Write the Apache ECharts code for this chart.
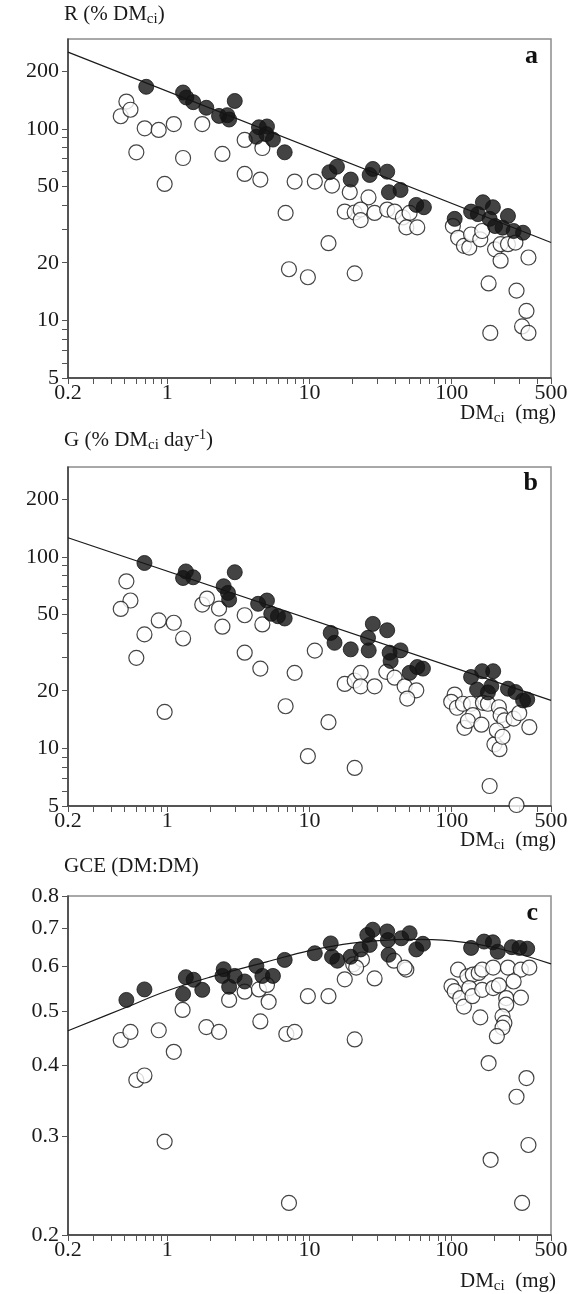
<!DOCTYPE html>
<html><head><meta charset="utf-8">
<script src="https://cdn.jsdelivr.net/npm/echarts@6/dist/echarts.min.js"></script>
<style>html,body{margin:0;padding:0;background:#fff}#c{width:580px;height:1294px}</style>
</head><body><div id="c"></div>
<script>
// ---------- data ----------
const xLabelValues = [0.2, 1, 10, 100, 500];
const xTickValues = [0.2,0.3,0.4,0.5,0.6,0.7,0.8,0.9,1,2,3,4,5,6,7,8,9,10,20,30,40,50,60,70,80,90,100,200,300,400,500];
const rgLabelValues = [5, 10, 20, 50, 100, 200];
const rgTickValues = [5,6,7,8,9,10,20,30,40,50,60,70,80,90,100,200];
const gceLabelValues = [0.2,0.3,0.4,0.5,0.6,0.7,0.8];

const rFilled = [[0.71,166],[1.29,155],[1.36,146],[1.52,138],[1.88,129],[2.98,140],[2.31,117],[2.64,118],[2.72,112],[4.41,102],[5.02,103],[4.23,91],[4.97,94],[5.53,88],[6.69,75.5],[13.8,59.4],[15.6,63.5],[19.5,54.4],[26.5,57.5],[27.9,61.8],[35.2,59.8],[36.2,46.7],[43.7,48],[56.4,40.1],[63.8,39],[105,33.9],[137,37],[166,41.4],[195,39],[185,33.9],[153,35.9],[249,35.1],[228,30.5],[273,29.3],[318,28.7],[202,31.1]];
const rOpen = [[0.515,139],[0.47,116.5],[0.55,126],[0.693,100.8],[0.869,98.8],[0.605,75.5],[1.11,106],[0.957,51.6],[1.29,70.5],[1.76,106],[2.44,74],[3.5,87.6],[4.66,79.5],[3.5,58.2],[4.51,54.4],[6.79,36.4],[7.17,18.5],[7.86,53.1],[10.9,53.1],[14.4,50.6],[19.2,46.7],[26,43.9],[17.7,37],[20.8,36.6],[22.9,37.9],[22.9,33.4],[28.7,36.4],[35.2,37.9],[39.7,37],[45.4,34.5],[50.6,36.4],[48,30.6],[57.3,30.6],[13.6,25.3],[9.74,16.8],[20.8,17.6],[102,31.1],[111,27],[122,24.5],[133,24],[137,28.1],[159,26.5],[164,29.3],[202,23.5],[221,25],[221,20.5],[249,25],[281,25.5],[347,21.3],[182,15.6],[286,14.3],[336,11.2],[313,9.3],[347,8.6],[187,8.6]];
const rLine = [[0.2,252],[500,25.5]];

const gFilled = [[0.69,93],[1.35,84],[1.29,77.6],[1.52,78.3],[2.98,83.2],[2.49,70.3],[2.67,64.9],[2.72,59.8],[4.35,56.9],[5.02,59.2],[5.38,50.5],[6.0,49],[6.69,47.7],[14.1,40.1],[15,35.6],[19.5,32.9],[25.8,37.8],[27.9,44.7],[26.1,32.5],[35.2,41.4],[36.6,31.6],[37.2,28.6],[43.7,32.5],[50.6,24.8],[57.3,26.6],[62.8,26.1],[137,23.6],[164,25.3],[196,25.3],[151,20.3],[190,21.1],[180,19.6],[249,20.5],[281,19.7],[318,17.8],[340,18]];
const gOpen = [[0.515,74.6],[0.55,59.2],[0.47,53.5],[0.69,39.4],[0.605,29.7],[0.87,46.6],[1.11,45.3],[1.29,37.5],[0.957,15.5],[1.76,56.4],[1.9,60.6],[2.31,53.7],[2.44,43.2],[3.5,49.6],[4.66,44.4],[3.5,31.6],[4.51,26.1],[7.86,24.8],[6.79,16.6],[10.9,32.4],[13.6,13.7],[9.74,9.1],[20.8,7.9],[17.7,21.7],[20.8,22.6],[22.9,24.8],[22.9,21.1],[28.7,21.1],[34.7,25.1],[39.7,23.4],[46.7,21.1],[56.4,20.1],[48.7,18.2],[105,19.1],[99.3,17.5],[109,16.3],[120,17.1],[137,17.1],[141,14.9],[123,12.8],[130,13.9],[162,13.3],[166,17.3],[185,6.36],[200,10.5],[217,9.9],[180,17.1],[215,16.4],[221,14.9],[235,14],[273,14.3],[299,15.3],[352,12.9],[208,12.4],[228,11.5],[286,5.06]];
const gLine = [[0.2,126],[500,17.8]];

const gceFilled = [[0.515,0.523],[0.69,0.546],[1.29,0.536],[1.35,0.574],[1.53,0.568],[1.76,0.545],[2.49,0.593],[2.44,0.577],[2.72,0.552],[2.98,0.577],[3.5,0.564],[4.23,0.601],[4.66,0.577],[5.53,0.577],[6.69,0.616],[10.9,0.633],[14.1,0.659],[14.4,0.624],[15.7,0.614],[19.5,0.624],[22.9,0.643],[25.5,0.682],[27.9,0.697],[26.5,0.655],[35.2,0.692],[35.6,0.668],[36,0.629],[44.2,0.673],[50.6,0.687],[56.4,0.643],[62.8,0.658],[137,0.647],[169,0.664],[195,0.662],[211,0.637],[265,0.649],[300,0.647],[340,0.645]];
const gceOpen = [[0.47,0.444],[0.55,0.459],[0.87,0.462],[1.11,0.423],[1.28,0.502],[0.605,0.377],[0.69,0.384],[0.957,0.293],[1.88,0.468],[2.31,0.459],[2.72,0.523],[3.5,0.541],[4.41,0.546],[5.02,0.556],[5.16,0.519],[4.51,0.479],[6.87,0.455],[7.17,0.228],[9.74,0.531],[13.6,0.531],[7.86,0.459],[20.8,0.445],[17.7,0.569],[20.3,0.605],[23.4,0.617],[21.3,0.597],[28.7,0.571],[39.3,0.614],[48,0.592],[46.7,0.597],[111,0.592],[99.8,0.553],[105,0.542],[115,0.527],[122,0.509],[129,0.576],[141,0.58],[155,0.584],[164,0.592],[196,0.597],[249,0.597],[307,0.592],[352,0.597],[133,0.549],[140,0.531],[159,0.487],[164,0.545],[196,0.549],[215,0.555],[242,0.527],[273,0.564],[242,0.513],[228,0.489],[235,0.476],[228,0.467],[208,0.451],[307,0.528],[182,0.404],[188,0.272],[286,0.352],[336,0.38],[347,0.289],[313,0.228]];
const gceCurve = [[0.2,0.461],[0.5,0.506],[1,0.543],[2,0.574],[5,0.611],[10,0.640],[20,0.660],[50,0.670],[100,0.666],[200,0.648],[500,0.606]];

// ---------- chart ----------
const lg = Math.log10;
const FONT = '"Liberation Serif","DejaVu Serif",serif';
const TXT = '#1a1a1a';
const tr = arr => arr.map(p => [lg(p[0]), lg(p[1])]);
function fmt(list){
  return function(v){
    let best = list[0], bd = 1e9;
    list.forEach(l => { const d = Math.abs(lg(l) - v); if (d < bd) { bd = d; best = l; } });
    return String(best);
  };
}
const tops = [39, 467, 896];
const grids = tops.map(t => ({left:68, top:t, width:483, height:339, show:true, borderColor:'#8c8c8c', borderWidth:1.5, outerBoundsMode:'none'}));

const yCfg = [
  {min:lg(5), max:lg(295), labels:rgLabelValues, ticks:rgTickValues},
  {min:lg(5), max:lg(295), labels:rgLabelValues, ticks:rgTickValues},
  {min:lg(0.2), max:lg(0.8), labels:gceLabelValues, ticks:gceLabelValues}
];
const xAxes = tops.map((t,i) => ({
  type:'value', gridIndex:i, min:lg(0.2), max:lg(500),
  axisLine:{show:true, onZero:false, lineStyle:{color:'#3a3a3a', width:1.5}},
  axisTick:{show:true, inside:false, length:6, customValues:xTickValues.map(lg), lineStyle:{color:'#555', width:1}},
  axisLabel:{show:true, customValues:xLabelValues.map(lg), formatter:fmt(xLabelValues), showMinLabel:true, showMaxLabel:true,
    fontFamily:FONT, fontSize:22, color:TXT, margin:4},
  splitLine:{show:false}
}));
const yAxes = yCfg.map((c,i) => ({
  type:'value', gridIndex:i, min:c.min, max:c.max,
  axisLine:{show:true, onZero:false, lineStyle:{color:'#3a3a3a', width:1.5}},
  axisTick:{show:true, inside:false, length:6, customValues:c.ticks.map(lg), lineStyle:{color:'#555', width:1}},
  axisLabel:{show:true, customValues:c.labels.map(lg), formatter:fmt(c.labels), showMinLabel:true, showMaxLabel:true,
    fontFamily:FONT, fontSize:22, color:TXT, margin:9},
  splitLine:{show:false}
}));

const openStyle = {color:'#ffffff', borderColor:'#151515', borderWidth:1.2};
const fillStyle = {color:'#141414', borderColor:'#141414', borderWidth:1};
const series = [];
const sets = [[rOpen, rFilled, rLine, false],[gOpen, gFilled, gLine, false],[gceOpen, gceFilled, gceCurve, true]];
sets.forEach((s,i) => {
  series.push({type:'line', xAxisIndex:i, yAxisIndex:i, data:tr(s[2]), symbol:'none', smooth:s[3] ? 0.4 : false,
    lineStyle:{color:'#1a1a1a', width:1.2}, z:1, silent:true});
  series.push({type:'scatter', xAxisIndex:i, yAxisIndex:i, data:tr(s[0]), symbol:'circle', symbolSize:15, itemStyle:openStyle, z:2});
  series.push({type:'scatter', xAxisIndex:i, yAxisIndex:i, data:tr(s[1]), symbol:'circle', symbolSize:15, itemStyle:fillStyle, z:3});
});

const rich = {
  n:{fontFamily:FONT, fontSize:21, fontWeight:'normal', color:TXT},
  s:{fontFamily:FONT, fontSize:15, fontWeight:'normal', color:TXT, padding:[10,0,0,0]},
  p:{fontFamily:FONT, fontSize:14, fontWeight:'normal', color:TXT, padding:[0,0,10,0]},
  b:{fontFamily:FONT, fontSize:26, fontWeight:'bold', color:'#111'}
};
const titles = [
  {text:'{n|R (% DM}{s|ci}{n|)}', left:64, top:2},
  {text:'{n|G (% DM}{s|ci}{n| day}{p|-1}{n|)}', left:64, top:428},
  {text:'{n|GCE (DM:DM)}', left:64, top:856},
  {text:'{n|DM}{s|ci}{n|  (mg)}', right:24, top:401},
  {text:'{n|DM}{s|ci}{n|  (mg)}', right:24, top:828},
  {text:'{n|DM}{s|ci}{n|  (mg)}', right:24, top:1269},
  {text:'{b|a}', right:42, top:43},
  {text:'{b|b}', right:42, top:470},
  {text:'{b|c}', right:42, top:900}
].map(t => Object.assign({padding:0, textStyle:{fontWeight:'normal', rich}}, t));

const chart = echarts.init(document.getElementById('c'));
chart.setOption({
  animation:false,
  backgroundColor:'#ffffff',
  title:titles,
  grid:grids,
  xAxis:xAxes,
  yAxis:yAxes,
  series:series
});
</script>
</body></html>
